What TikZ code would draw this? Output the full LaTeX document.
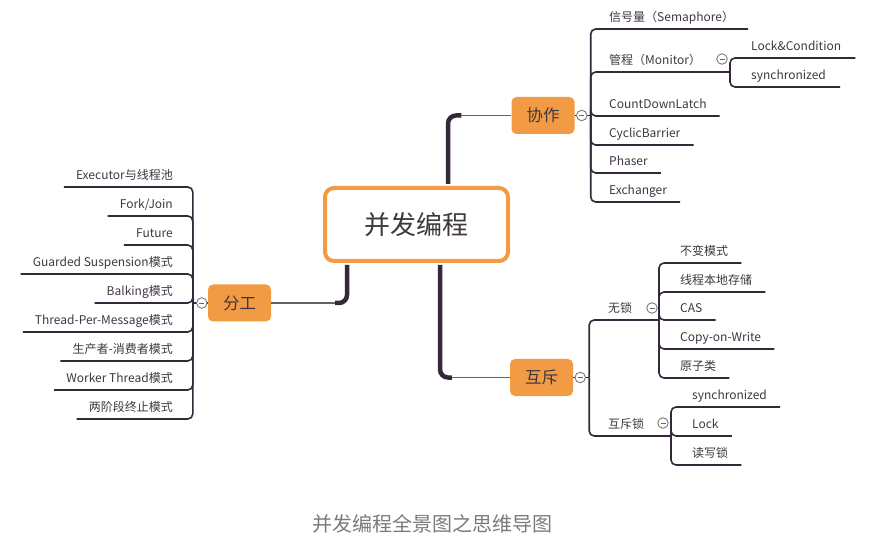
\documentclass[tikz,border=0pt]{standalone}
\usepackage{fontspec}
\setmainfont{Noto Sans CJK SC}
\newfontfamily\tcparen{Noto Sans CJK TC}
\usetikzlibrary{positioning}
\definecolor{mmorange}{HTML}{F39A44}
\definecolor{mmline}{HTML}{35283A}
\definecolor{mmtext}{HTML}{3E383E}
\definecolor{mmgrey}{HTML}{7A7A7A}
\definecolor{mmminus}{HTML}{5B6B8C}
\newcommand{\lpar}{{\tcparen （}}
\newcommand{\rpar}{{\tcparen ）}}
\tikzset{
  root/.style={draw=mmorange, line width=4pt, fill=white, rounded corners=9pt, minimum width=183pt, minimum height=73pt, font=\fontsize{26}{30}\selectfont, text=mmtext},
  topic/.style={fill=mmorange, rounded corners=5pt, minimum width=63pt, minimum height=37pt, font=\fontsize{16.5}{19}\selectfont, text=mmtext},
  leaf/.style={inner xsep=0pt, inner ysep=7pt, text depth=0pt, font=\fontsize{12}{14}\selectfont, text=mmtext},
  link/.style={draw=mmline, line width=1.6pt, rounded corners=5pt},
  trunk/.style={draw=mmline, line width=4.5pt, rounded corners=8pt},
  stem/.style={draw=mmline!75, line width=1.8pt},
  fold/.style={circle, draw=mmgrey, fill=white, line width=0.9pt, minimum size=10.5pt, inner sep=0pt,
    path picture={\draw[mmminus, line width=0.8pt] ([xshift=-2.5pt]path picture bounding box.center) -- ([xshift=2.5pt]path picture bounding box.center);}},
}
\begin{document}
\begin{tikzpicture}[x=1pt,y=-1pt]
    \useasboundingbox (0,0) rectangle (873,545);
    % main topics
    \node[root] (bf) at (416.5,224.5) {并发编程};
    \node[topic] (xz) at (543,115.5) {协作};
    \node[topic] (hc) at (541.5,377.5) {互斥};
    \node[topic] (fg) at (239.5,303) {分工};
    \draw[trunk] ([xshift=31.5pt,yshift=2pt]bf.north) |- ([xshift=-50pt]xz.west);
    \draw[stem] ([xshift=-50pt]xz.west) -- (xz.west);
    \draw[trunk] ([xshift=23.5pt,yshift=-2pt]bf.south) |- ([xshift=-58pt]hc.west);
    \draw[stem] ([xshift=-58pt]hc.west) -- (hc.west);
    \draw[trunk] ([xshift=-69.5pt,yshift=-2pt]bf.south) |- ([xshift=64pt]fg.east);
    \draw[stem] ([xshift=64pt]fg.east) -- (fg.east);
    % 协作
    \coordinate (xzhub) at ([xshift=16pt]xz.east);
    \coordinate (gchub) at (730,72);
    \node[leaf, anchor=south west] (sem) at (609,29) {信号量\lpar Semaphore\rpar};
    \node[leaf, anchor=south west] (gc) at (609,72) {管程\lpar Monitor\rpar};
    \node[leaf, anchor=south west] (cdl) at (609,116) {CountDownLatch};
    \node[leaf, anchor=south west] (cb) at (609,145) {CyclicBarrier};
    \node[leaf, anchor=south west] (ph) at (609,173) {Phaser};
    \node[leaf, anchor=south west] (ex) at (609,202) {Exchanger};
    \node[leaf, anchor=south west] (lc) at (751,58) {Lock\&Condition};
    \node[leaf, anchor=south west] (gsy) at (751,87) {synchronized};
    \draw[link] (xz.east) -- (xzhub);
    \draw[link] (xzhub) |- ([xshift=14pt]sem.south east);
    \draw[link] (xzhub) |- (gchub);
    \draw[link] (xzhub) |- ([xshift=13pt]cdl.south east);
    \draw[link] (xzhub) |- ([xshift=13pt]cb.south east);
    \draw[link] (xzhub) |- ([xshift=13pt]ph.south east);
    \draw[link] (xzhub) |- ([xshift=13pt]ex.south east);
    \draw[link] (gchub) |- ([xshift=14pt]lc.south east);
    \draw[link] (gchub) |- ([xshift=14pt]gsy.south east);
    % 互斥
    \coordinate (hchub) at ([xshift=16pt]hc.east);
    \coordinate (wshub) at (659,320);
    \coordinate (hshub) at (671,436);
    \node[leaf, anchor=south west] (ws) at (608,320) {无锁};
    \node[leaf, anchor=south west] (hs) at (608,436) {互斥锁};
    \node[leaf, anchor=south west] (byms) at (680,263) {不变模式};
    \node[leaf, anchor=south west] (bdcc) at (680,292) {线程本地存储};
    \node[leaf, anchor=south west] (cas) at (680,320) {CAS};
    \node[leaf, anchor=south west] (cow) at (680,349) {Copy-on-Write};
    \node[leaf, anchor=south west] (yzl) at (680,378) {原子类};
    \node[leaf, anchor=south west] (hsy) at (692,407) {synchronized};
    \node[leaf, anchor=south west] (lock) at (692,436) {Lock};
    \node[leaf, anchor=south west] (dxs) at (692,465) {读写锁};
    \draw[link] (hc.east) -- (hchub);
    \draw[link] (hchub) |- (wshub);
    \draw[link] (hchub) |- (hshub);
    \draw[link] (wshub) |- ([xshift=13pt]byms.south east);
    \draw[link] (wshub) |- ([xshift=13pt]bdcc.south east);
    \draw[link] (wshub) |- ([xshift=13pt]cas.south east);
    \draw[link] (wshub) |- ([xshift=13pt]cow.south east);
    \draw[link] (wshub) |- ([xshift=13pt]yzl.south east);
    \draw[link] (hshub) |- ([xshift=13pt]hsy.south east);
    \draw[link] (hshub) |- ([xshift=13pt]lock.south east);
    \draw[link] (hshub) |- ([xshift=13pt]dxs.south east);
    % 分工
    \coordinate (fghub) at ([xshift=-15pt]fg.west);
    \node[leaf, anchor=south east] (exe) at (173,187) {Executor与线程池};
    \node[leaf, anchor=south east] (fj) at (173,216) {Fork/Join};
    \node[leaf, anchor=south east] (fut) at (173,245) {Future};
    \node[leaf, anchor=south east] (gs) at (173,274) {Guarded Suspension模式};
    \node[leaf, anchor=south east] (bk) at (173,303) {Balking模式};
    \node[leaf, anchor=south east] (tpm) at (173,332) {Thread-Per-Message模式};
    \node[leaf, anchor=south east] (scz) at (173,361) {生产者-消费者模式};
    \node[leaf, anchor=south east] (wt) at (173,390) {Worker Thread模式};
    \node[leaf, anchor=south east] (ljd) at (173,419) {两阶段终止模式};
    \draw[link] (fg.west) -- (fghub);
    \draw[link] (fghub) |- ([xshift=-12pt]exe.south west);
    \draw[link] (fghub) |- ([xshift=-12pt]fj.south west);
    \draw[link] (fghub) |- ([xshift=-12pt]fut.south west);
    \draw[link] (fghub) |- ([xshift=-12pt]gs.south west);
    \draw[link] (fghub) |- ([xshift=-12pt]bk.south west);
    \draw[link] (fghub) |- ([xshift=-12pt]tpm.south west);
    \draw[link] (fghub) |- ([xshift=-12pt]scz.south west);
    \draw[link] (fghub) |- ([xshift=-12pt]wt.south west);
    \draw[link] (fghub) |- ([xshift=-12pt]ljd.south west);
    % fold marks
    \node[fold] (xzc) at ([xshift=7pt]xz.east) {};
    \node[fold] (hcc) at ([xshift=7pt]hc.east) {};
    \node[fold] (fgc) at ([xshift=-6pt]fg.west) {};
    \node[fold] (gcc) at ([xshift=-8pt,yshift=13pt]gchub) {};
    \node[fold] (wsc) at ([xshift=-7pt,yshift=12pt]wshub) {};
    \node[fold] (hsc) at ([xshift=-8pt,yshift=13pt]hshub) {};
    \node[font=\fontsize{20}{24}\selectfont, text=mmgrey] (cap) at (432,524) {并发编程全景图之思维导图};
\end{tikzpicture}
\end{document}
